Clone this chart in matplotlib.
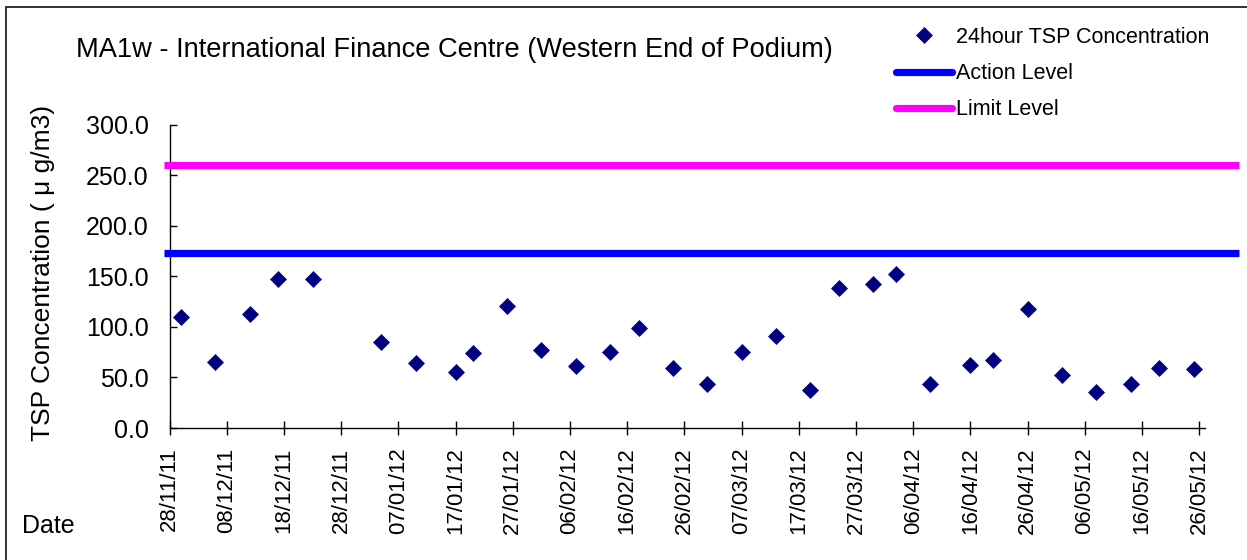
import matplotlib
matplotlib.use('Agg')
import matplotlib.pyplot as plt
from matplotlib.lines import Line2D
from matplotlib.patches import Rectangle
from datetime import datetime

plt.rcParams['font.family'] = ['Liberation Sans', 'DejaVu Sans']

# 24 hour TSP samples
dates = ['2011-11-30', '2011-12-06', '2011-12-12', '2011-12-17', '2011-12-23',
         '2012-01-04', '2012-01-10', '2012-01-17', '2012-01-20', '2012-01-26',
         '2012-02-01', '2012-02-07', '2012-02-13', '2012-02-18', '2012-02-24',
         '2012-03-01', '2012-03-07', '2012-03-13', '2012-03-19', '2012-03-24',
         '2012-03-30', '2012-04-03', '2012-04-09', '2012-04-16', '2012-04-20',
         '2012-04-26', '2012-05-02', '2012-05-08', '2012-05-14', '2012-05-19',
         '2012-05-25']
tsp = [110.2, 64.8, 112.8, 147.7, 147.0, 84.9, 64.1, 55.6, 74.0, 121.0,
       77.3, 60.9, 74.7, 99.0, 59.2, 43.8, 74.7, 91.0, 37.2, 138.8,
       142.0, 152.3, 43.1, 61.8, 67.4, 118.0, 52.0, 35.2, 43.4, 59.5, 58.6]

action_level = 173.0
limit_level = 260.0
level_dates = ['2011-11-27', '2012-06-02']

tick_labels = ['28/11/11', '08/12/11', '18/12/11', '28/12/11', '07/01/12',
               '17/01/12', '27/01/12', '06/02/12', '16/02/12', '26/02/12',
               '07/03/12', '17/03/12', '27/03/12', '06/04/12', '16/04/12',
               '26/04/12', '06/05/12', '16/05/12', '26/05/12']
yticks = [0, 50, 100, 150, 200, 250, 300]

x = [datetime.strptime(d, '%Y-%m-%d') for d in dates]
xl = [datetime.strptime(d, '%Y-%m-%d') for d in level_dates]
xt = [datetime.strptime(d, '%d/%m/%y') for d in tick_labels]

W, H = 1247, 560
fig = plt.figure(figsize=(W / 100, H / 100), dpi=100)
ax = fig.add_axes([169.5 / W, 1 - 428 / H, (1205 - 169.5) / W, (428 - 124.5) / H])

navy = '#000080'
ax.plot(x, tsp, 'D', color=navy, ms=8.4, mec=navy, mew=0.5,
        label='24hour TSP Concentration', zorder=4)
ax.plot(xl, [action_level] * 2, color='#0000FF', lw=5.2,
        solid_capstyle='butt', clip_on=False, label='Action Level', zorder=3)
ax.plot(xl, [limit_level] * 2, color='#FF00FF', lw=5.2,
        solid_capstyle='butt', clip_on=False, label='Limit Level', zorder=3)

ax.set_xlim(datetime(2011, 11, 28), datetime(2012, 5, 27))
ax.set_ylim(0, 300)
ax.set_xticks(xt)
ax.set_xticklabels(tick_labels, rotation=90, fontsize=16)
ax.set_yticks(yticks)
ax.set_yticklabels(['%.1f' % v for v in yticks], fontsize=18)
ax.tick_params(axis='y', direction='in', length=5, width=1, pad=15)
ax.tick_params(axis='x', direction='inout', length=10, width=1, pad=9)
for s in ['top', 'right']:
    ax.spines[s].set_visible(False)
for s in ['left', 'bottom']:
    ax.spines[s].set_linewidth(1)

ax.set_ylabel('TSP Concentration ( μ g/m3)', fontsize=19)
ax.yaxis.set_label_coords((55 - 169.5) / (1205 - 169.5), (428 - 273) / (428 - 124.5))

fig.text(76 / W, 1 - 50 / H, 'MA1w - International Finance Centre (Western End of Podium)',
         fontsize=19.6, ha='left', va='center')
fig.text(22 / W, 1 - 526 / H, 'Date', fontsize=18, ha='left', va='center')

# legend handles with round caps like the original
h_sc = Line2D([], [], ls='none', marker='D', color=navy, ms=8.4, mec=navy, mew=0.5)
h_al = Line2D([], [], color='#0000FF', lw=5.2, solid_capstyle='round')
h_ll = Line2D([], [], color='#FF00FF', lw=5.2, solid_capstyle='round')
fig.legend([h_sc, h_al, h_ll], ['24hour TSP Concentration', 'Action Level', 'Limit Level'],
           loc='upper left', bbox_to_anchor=(896 / W, 1 - 27 / H), frameon=False,
           fontsize=15.5, handlelength=2.6, handletextpad=0.2, labelspacing=0.7,
           borderpad=0, borderaxespad=0)

# outer chart border
fig.add_artist(Rectangle((5.5 / W, -0.1), 2, 1.1 - 6.5 / H, fill=False,
                         lw=1.3, ec='#222222', transform=fig.transFigure))

fig.savefig('out.png', dpi=100)
